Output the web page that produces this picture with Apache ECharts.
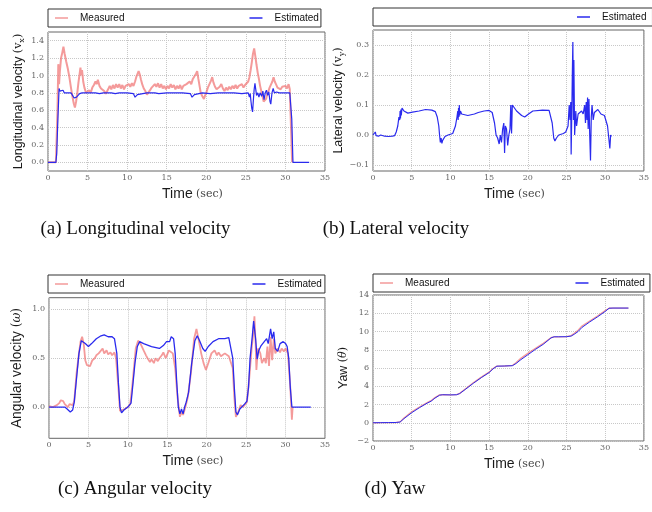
<!DOCTYPE html>
<html>
<head>
<meta charset="utf-8">
<script src="https://cdn.jsdelivr.net/npm/echarts@6/dist/echarts.min.js"></script>
<style>
html, body { margin: 0; padding: 0; background: #fff; }
#main { width: 652px; height: 512px; }
</style>
</head>
<body>
<div id="main"></div>
<script>
// (a) longitudinal velocity, [time, value]
const longMeasured = [[0,0],[1.0,0],[1.1,0.02],[1.2,0.6],[1.3,1.13],[1.4,0.9],[1.5,1.05],[1.65,1.2],[1.8,1.26],[1.95,1.33],[2.1,1.25],[2.3,1.16],[2.5,1.08],[2.7,0.98],[2.9,0.86],[3.1,0.75],[3.25,0.68],[3.4,0.63],[3.55,0.7],[3.7,0.8],[3.85,0.92],[4.0,1.02],[4.1,1.09],[4.2,1.0],[4.3,1.06],[4.45,0.93],[4.6,0.86],[4.8,0.8],[5.0,0.78],[5.2,0.83],[5.4,0.8],[5.6,0.86],[5.8,0.89],[6.0,0.93],[6.15,0.9],[6.3,0.95],[6.5,0.88],[6.7,0.85],[6.9,0.87],[7.1,0.82],[7.3,0.79],[7.45,0.77],[7.6,0.84],[7.8,0.88],[8.0,0.84],[8.2,0.89],[8.4,0.85],[8.6,0.9],[8.8,0.86],[9.0,0.9],[9.2,0.85],[9.4,0.89],[9.6,0.84],[9.8,0.88],[10.0,0.86],[10.2,0.9],[10.4,0.87],[10.6,0.91],[10.8,0.88],[11.0,0.93],[11.15,0.98],[11.3,0.96],[11.45,1.05],[11.6,1.01],[11.75,0.95],[11.9,0.9],[12.1,0.85],[12.3,0.82],[12.5,0.78],[12.7,0.8],[12.9,0.83],[13.1,0.86],[13.3,0.84],[13.5,0.9],[13.7,0.87],[13.9,0.91],[14.1,0.86],[14.3,0.9],[14.5,0.85],[14.7,0.88],[14.9,0.84],[15.1,0.88],[15.3,0.85],[15.5,0.9],[15.7,0.86],[15.9,0.89],[16.1,0.84],[16.3,0.88],[16.5,0.85],[16.7,0.89],[16.9,0.84],[17.1,0.88],[17.3,0.86],[17.5,0.9],[17.7,0.88],[17.9,0.93],[18.1,0.9],[18.3,0.96],[18.5,0.98],[18.7,1.02],[18.85,1.05],[19.0,0.96],[19.15,0.88],[19.3,0.8],[19.5,0.76],[19.7,0.73],[19.85,0.77],[20.0,0.8],[20.2,0.86],[20.4,0.9],[20.6,0.94],[20.75,0.98],[20.9,0.92],[21.1,0.87],[21.3,0.84],[21.5,0.82],[21.7,0.87],[21.9,0.9],[22.1,0.85],[22.3,0.82],[22.5,0.86],[22.7,0.83],[22.9,0.87],[23.1,0.84],[23.3,0.88],[23.5,0.85],[23.7,0.89],[23.9,0.85],[24.1,0.88],[24.3,0.86],[24.5,0.9],[24.7,0.86],[24.9,0.89],[25.1,0.87],[25.3,0.93],[25.45,0.98],[25.6,1.06],[25.75,1.15],[25.9,1.25],[26.05,1.31],[26.2,1.22],[26.35,1.12],[26.5,1.03],[26.65,0.96],[26.8,0.88],[26.95,0.82],[27.1,0.76],[27.25,0.7],[27.4,0.68],[27.55,0.73],[27.7,0.78],[27.85,0.82],[28.0,0.86],[28.2,0.9],[28.35,0.93],[28.5,0.98],[28.65,0.93],[28.8,0.9],[29.0,0.86],[29.2,0.88],[29.4,0.84],[29.6,0.87],[29.8,0.85],[30.0,0.88],[30.2,0.85],[30.4,0.9],[30.55,0.84],[30.7,0.86],[30.85,0.0]];
const longEstimated = [[0,0],[1.0,0],[1.1,0.1],[1.25,0.5],[1.4,0.85],[1.5,0.82],[1.6,0.8],[1.75,0.84],[1.9,0.83],[2.05,0.8],[2.3,0.81],[2.6,0.8],[2.9,0.8],[3.1,0.77],[3.3,0.74],[3.45,0.73],[3.6,0.75],[3.8,0.77],[4.0,0.79],[4.3,0.8],[5,0.8],[6,0.8],[6.5,0.79],[7,0.8],[8,0.8],[8.5,0.79],[9,0.8],[10,0.8],[10.8,0.79],[11.0,0.75],[11.15,0.74],[11.3,0.78],[11.5,0.8],[12.5,0.8],[13.5,0.8],[14,0.79],[15,0.8],[16,0.8],[17,0.8],[18.0,0.79],[18.2,0.75],[18.35,0.74],[18.5,0.78],[18.7,0.8],[19.5,0.8],[20.5,0.79],[21.5,0.8],[22.5,0.8],[23.5,0.8],[24.5,0.79],[25.3,0.8],[25.45,0.75],[25.55,0.79],[25.65,0.7],[25.75,0.62],[25.85,0.58],[25.95,0.72],[26.05,0.84],[26.15,0.91],[26.25,0.84],[26.35,0.77],[26.5,0.8],[26.65,0.75],[26.8,0.8],[27.0,0.76],[27.15,0.82],[27.3,0.72],[27.45,0.8],[27.6,0.83],[27.75,0.77],[27.9,0.81],[28.05,0.7],[28.15,0.67],[28.3,0.8],[28.45,0.85],[28.6,0.8],[28.75,0.78],[28.9,0.81],[29.2,0.8],[30,0.8],[30.55,0.8],[30.7,0.82],[30.8,0.5],[30.95,0.0],[33.0,0.0]];

// (b) lateral velocity
const latEstimated = [[0,0.0],[0.15,0.005],[0.3,0.01],[0.4,-0.002],[0.55,0.003],[0.7,-0.004],[1.0,0.0],[1.5,-0.004],[2.0,-0.005],[2.5,-0.004],[2.8,-0.002],[3.0,0.01],[3.2,0.03],[3.35,0.06],[3.45,0.05],[3.5,0.08],[3.55,0.055],[3.6,0.085],[3.65,0.065],[3.75,0.09],[3.85,0.085],[4.0,0.08],[4.2,0.075],[4.5,0.073],[5.1,0.076],[5.95,0.08],[6.8,0.085],[7.6,0.083],[8.05,0.078],[8.3,0.06],[8.5,0.03],[8.6,0.0],[8.7,-0.025],[8.8,-0.01],[8.9,-0.028],[9.0,-0.018],[9.3,-0.005],[9.7,0.0],[10.3,0.005],[10.65,0.03],[10.85,0.06],[10.95,0.08],[11.0,0.05],[11.05,0.09],[11.1,0.06],[11.15,0.1],[11.2,0.065],[11.3,0.08],[11.45,0.07],[11.6,0.068],[12.25,0.065],[13.1,0.07],[13.6,0.075],[13.7,0.08],[14.35,0.08],[15.0,0.082],[15.4,0.075],[15.7,0.04],[15.9,0.0],[16.1,-0.01],[16.3,-0.03],[16.45,0.0],[16.6,-0.025],[16.75,0.02],[16.9,0.04],[17.0,-0.06],[17.1,0.03],[17.25,0.02],[17.4,-0.035],[17.55,0.0],[17.7,0.02],[17.8,0.1],[17.9,0.005],[18.0,0.1],[18.2,0.095],[18.55,0.08],[18.75,0.085],[19.2,0.065],[19.6,0.06],[20.1,0.07],[20.65,0.08],[21.9,0.083],[22.75,0.082],[22.95,0.078],[23.15,0.04],[23.35,-0.01],[23.5,-0.02],[23.7,-0.01],[24.0,0.0],[24.6,0.005],[24.9,0.01],[25.2,0.03],[25.35,0.1],[25.45,0.05],[25.55,0.11],[25.6,-0.065],[25.7,0.1],[25.75,0.2],[25.82,0.31],[25.9,0.05],[25.95,0.25],[26.05,0.0],[26.2,0.08],[26.3,0.03],[26.5,0.07],[26.95,0.08],[27.15,0.07],[27.35,0.1],[27.45,0.04],[27.55,0.11],[27.65,0.05],[27.72,0.125],[27.8,0.02],[27.9,0.12],[28.0,0.0],[28.1,-0.085],[28.2,0.06],[28.3,0.1],[28.45,0.05],[28.6,0.075],[28.85,0.07],[29.05,0.085],[29.25,0.08],[29.45,0.07],[29.9,0.065],[30.1,0.06],[30.3,0.03],[30.5,-0.02],[30.6,-0.045],[30.7,0.0],[30.8,-0.005]];

// (c) angular velocity
const angMeasured = [[0,0.01],[0.5,0.0],[1.0,0.02],[1.3,0.04],[1.5,0.07],[1.65,0.09],[1.8,0.06],[2.0,0.03],[2.2,0.05],[2.4,0.0],[2.6,0.03],[2.8,0.01],[3.0,0.02],[3.2,0.06],[3.5,0.35],[3.8,0.55],[4.0,0.67],[4.2,0.72],[4.4,0.65],[4.6,0.48],[4.8,0.43],[5.0,0.45],[5.2,0.42],[5.5,0.48],[5.8,0.5],[6.0,0.53],[6.3,0.55],[6.5,0.53],[6.8,0.6],[7.0,0.55],[7.3,0.58],[7.5,0.54],[7.8,0.56],[8.0,0.53],[8.3,0.56],[8.5,0.5],[8.8,0.2],[9.0,-0.04],[9.3,-0.03],[9.6,-0.02],[10.0,0.0],[10.3,0.03],[10.6,0.25],[11.0,0.6],[11.3,0.68],[11.6,0.65],[12.0,0.58],[12.3,0.53],[12.5,0.5],[12.8,0.46],[13.0,0.49],[13.3,0.45],[13.5,0.5],[13.8,0.47],[14.0,0.5],[14.3,0.53],[14.5,0.56],[14.8,0.5],[15.0,0.54],[15.2,0.58],[15.4,0.6],[15.7,0.55],[16.0,0.4],[16.3,0.1],[16.6,-0.1],[16.8,-0.05],[17.0,-0.08],[17.3,0.0],[17.6,0.1],[18.0,0.35],[18.4,0.7],[18.7,0.8],[19.0,0.68],[19.3,0.55],[19.6,0.45],[19.9,0.38],[20.2,0.45],[20.6,0.55],[21.0,0.58],[21.3,0.53],[21.5,0.56],[21.8,0.52],[22.0,0.5],[22.3,0.55],[22.5,0.57],[22.8,0.52],[23.0,0.53],[23.3,0.4],[23.5,0.1],[23.7,-0.1],[24.0,-0.05],[24.3,0.02],[24.6,0.0],[24.8,0.02],[25.1,0.05],[25.4,0.3],[25.7,0.6],[25.9,0.75],[26.05,0.93],[26.2,0.65],[26.3,0.38],[26.5,0.6],[26.8,0.55],[27.0,0.45],[27.3,0.5],[27.5,0.45],[27.7,0.62],[27.9,0.42],[28.1,0.72],[28.3,0.48],[28.5,0.7],[28.7,0.55],[29.0,0.6],[29.3,0.56],[29.5,0.6],[29.8,0.57],[30.0,0.6],[30.3,0.55],[30.6,0.2],[30.8,-0.13],[30.9,0.0]];
const angEstimated = [[0,0.0],[1.0,0.0],[2.0,0.0],[2.3,-0.02],[2.7,-0.05],[3.0,-0.03],[3.2,0.05],[3.5,0.3],[3.8,0.55],[4.1,0.68],[4.3,0.7],[4.6,0.65],[5.0,0.62],[5.4,0.65],[6.0,0.7],[6.6,0.73],[7.0,0.74],[7.5,0.72],[8.0,0.72],[8.3,0.7],[8.6,0.55],[8.8,0.25],[9.0,0.0],[9.2,-0.06],[9.5,-0.03],[10.0,0.0],[10.4,0.04],[10.6,0.2],[10.9,0.45],[11.2,0.62],[11.5,0.67],[12.0,0.65],[13.0,0.62],[14.0,0.6],[14.5,0.63],[14.9,0.67],[15.3,0.67],[15.5,0.72],[15.8,0.7],[16.0,0.55],[16.2,0.25],[16.4,0.0],[16.6,-0.07],[16.8,-0.02],[17.0,-0.07],[17.2,0.0],[17.4,0.05],[17.7,0.15],[18.1,0.45],[18.5,0.68],[18.8,0.73],[19.1,0.68],[19.5,0.6],[19.8,0.57],[20.2,0.62],[20.8,0.67],[21.5,0.7],[22.3,0.7],[22.8,0.71],[23.0,0.7],[23.3,0.5],[23.5,0.2],[23.7,-0.05],[23.9,-0.08],[24.2,-0.02],[24.8,0.03],[25.1,0.06],[25.3,0.2],[25.5,0.5],[25.75,0.7],[25.95,0.88],[26.05,0.9],[26.2,0.7],[26.4,0.49],[26.6,0.58],[26.9,0.63],[27.3,0.67],[27.6,0.7],[27.8,0.65],[27.9,0.67],[28.1,0.8],[28.3,0.7],[28.5,0.77],[28.7,0.6],[29.0,0.57],[29.3,0.65],[29.7,0.67],[30.0,0.65],[30.2,0.62],[30.4,0.5],[30.6,0.2],[30.8,0.0],[33.2,0.0]];

// (d) yaw
const yawMeasured = [[0,0],[1,0.01],[2,0.02],[3,0.03],[3.5,0.1],[4,0.52],[5,1.2],[6,1.72],[7,2.2],[7.5,2.42],[8,2.76],[8.6,3.05],[9,3.08],[10,3.06],[10.8,3.08],[11.2,3.22],[12,3.75],[13,4.4],[14,5.0],[15,5.55],[15.5,5.95],[16,6.2],[17,6.22],[18,6.28],[18.5,6.6],[19,7.0],[20,7.6],[21,8.15],[22,8.7],[23,9.32],[23.4,9.42],[24,9.42],[25,9.44],[25.6,9.55],[26,9.8],[26.5,10.15],[27,10.6],[28,11.15],[29,11.7],[30,12.3],[30.5,12.55],[31,12.57],[33,12.57]];
const yawEstimated = [[0,0],[1,0.01],[2,0.02],[3,0.03],[3.5,0.08],[4,0.45],[5,1.1],[6,1.65],[7,2.15],[7.5,2.36],[8,2.7],[8.6,3.02],[9,3.07],[10,3.05],[10.8,3.07],[11.2,3.2],[12,3.7],[13,4.35],[14,4.95],[15,5.5],[15.5,5.9],[16,6.2],[17,6.22],[18,6.25],[18.5,6.5],[19,6.85],[20,7.45],[21,8.05],[22,8.6],[23,9.3],[23.4,9.42],[24,9.42],[25,9.43],[25.6,9.5],[26,9.7],[26.5,10.0],[27,10.45],[28,11.05],[29,11.6],[30,12.2],[30.5,12.55],[31,12.57],[33,12.57]];

// tick values
const longTicks = [0.0, 0.2, 0.4, 0.6, 0.8, 1.0, 1.2, 1.4];
const latTicks = [-0.1, 0.0, 0.1, 0.2, 0.3];
const angTicks = [0.0, 0.5, 1.0];

const captions = ['(a) Longitudinal velocity', '(b) Lateral velocity', '(c) Angular velocity', '(d) Yaw'];

const RED = 'rgba(240,115,115,0.72)';
const BLUE = '#2a2aee';
const SERIF = '"DejaVu Serif", serif';
const SANS = '"Liberation Sans", Arial, sans-serif';

const minus = s => String(s).replace('-', '\u2212');

const chart = echarts.init(document.getElementById('main'));

const grids = [
    { left: 48, top: 32, width: 277, height: 139 },
    { left: 373, top: 30, width: 278, height: 141 },
    { left: 49, top: 297.7, width: 276, height: 140.6 },
    { left: 373, top: 295, width: 278, height: 146 }
].map(g => Object.assign(g, { show: true, borderColor: '#666', borderWidth: 1, backgroundColor: '#fff' }));

// axis name styles, k scales the font for one panel
function nameRich(k) {
    return {
        a: { fontFamily: SANS, fontSize: 12.5 * k, color: '#1a1a1a', lineHeight: 15 * k },
        b: { fontFamily: SERIF, fontSize: 11 * k, color: '#1a1a1a', lineHeight: 15 * k },
        i: { fontFamily: SERIF, fontSize: 11 * k, fontStyle: 'italic', color: '#1a1a1a', lineHeight: 15 * k },
        s: { fontFamily: SERIF, fontSize: 8 * k, color: '#1a1a1a', verticalAlign: 'bottom', lineHeight: 15 * k }
    };
}

function xAxis(i) {
    return {
        gridIndex: i, type: 'value', min: 0, max: 35, interval: 5,
        name: '{t|Time} {s|(sec)}', nameLocation: 'middle', nameGap: 16,
        nameTextStyle: { padding: [0, 0, 0, 12], rich: {
            t: { fontFamily: SANS, fontSize: 14, color: '#1a1a1a' },
            s: { fontFamily: SERIF, fontSize: 11, color: '#444' }
        } },
        axisLine: { show: false }, axisTick: { show: false },
        axisLabel: { fontFamily: SERIF, fontSize: 8, color: '#666', margin: 3, showMaxLabel: true },
        splitLine: { show: true, lineStyle: { color: '#c8c8c8', type: 'dotted' } }
    };
}

function yAxis(i, min, max, ticks, name, gap, digits, k) {
    const ax = {
        gridIndex: i, type: 'value', min: min, max: max,
        name: name, nameLocation: 'middle', nameGap: gap,
        nameTextStyle: { rich: nameRich(k) },
        axisLine: { show: false },
        axisTick: { show: false },
        axisLabel: { fontFamily: SERIF, fontSize: 8, color: '#666', margin: 4,
            formatter: v => minus(Number(v).toFixed(digits)) },
        splitLine: { show: true, lineStyle: { color: '#c8c8c8', type: 'dotted' } }
    };
    if (ticks) {
        ax.axisLabel.customValues = ticks;
        ax.axisTick.customValues = ticks;
    } else {
        ax.interval = 2;
    }
    return ax;
}

function line(name, i, data, color, width, z) {
    return {
        name: name, type: 'line', xAxisIndex: i, yAxisIndex: i, data: data,
        symbol: 'none', silent: true, z: z,
        lineStyle: { color: color, width: width }, itemStyle: { color: color }
    };
}

function legend(left, top, items, pad, gap) {
    return {
        left: left, top: top, data: items, orient: 'horizontal',
        icon: 'rect', itemWidth: 13, itemHeight: 1.5,
        padding: pad, itemGap: gap,
        borderColor: '#333', borderWidth: 1, borderRadius: 0,
        selectedMode: false,
        textStyle: { fontFamily: SANS, fontSize: 10, color: '#111', padding: [0, 0, 0, 7], lineHeight: 12 }
    };
}

const option = {
    animation: false,
    backgroundColor: '#fff',
    grid: grids,
    xAxis: [0, 1, 2, 3].map(xAxis),
    yAxis: [
        yAxis(0, -0.1, 1.5, longTicks, '{a|Longitudinal velocity }{b|(v}{s|x}{b|)}', 22, 1, 1),
        yAxis(1, -0.12, 0.35, latTicks, '{a|Lateral velocity }{b|(v}{s|y}{b|)}', 17, 1, 1),
        yAxis(2, -0.32, 1.12, angTicks, '{a|Angular velocity }{b|(}{i|\u03c9}{b|)}', 24, 1, 1.1),
        yAxis(3, -2, 14, null, '{a|Yaw }{b|(}{i|\u03b8}{b|)}', 22, 0, 1)
    ],
    legend: [
        legend(48, 9, ['Measured', 'Estimated'], [3, 2, 3, 7], 125),
        legend(373, 8, ['Estimated'], [3, 6, 3, 204], 10),
        legend(48, 275, ['Measured', 'Estimated'], [3, 3, 3, 7], 128),
        legend(373, 274, ['Measured', 'Estimated'], [3, 5, 3, 7], 126)
    ],
    series: [
        line('Measured', 0, longMeasured, RED, 2, 2),
        line('Estimated', 0, longEstimated, BLUE, 1.2, 3),
        line('Estimated', 1, latEstimated, BLUE, 1.2, 3),
        line('Measured', 2, angMeasured, RED, 1.8, 2),
        line('Estimated', 2, angEstimated, BLUE, 1.3, 3),
        line('Measured', 3, yawMeasured, RED, 1.3, 2),
        line('Estimated', 3, yawEstimated, BLUE, 1.0, 3)
    ],
    graphic: [
        [135.5, 229], [396, 229], [135, 489], [395, 489]
    ].map((p, k) => ({
        type: 'text', x: p[0], y: p[1],
        style: { text: captions[k], font: '19px "Liberation Serif", serif', fill: '#111',
            textAlign: 'center', textVerticalAlign: 'middle' }
    }))
};

chart.setOption(option);
</script>
</body>
</html>
